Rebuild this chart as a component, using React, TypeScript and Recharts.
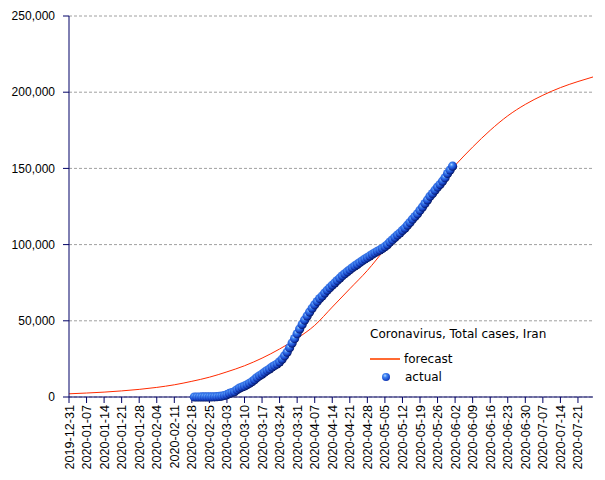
import React from "react";
import {
  ComposedChart,
  Line,
  Scatter,
  XAxis,
  YAxis,
  CartesianGrid,
} from "recharts";

// weekly tick labels on the x axis
const tickLabels = [
  "2019-12-31", "2020-01-07", "2020-01-14", "2020-01-21", "2020-01-28",
  "2020-02-04", "2020-02-11", "2020-02-18", "2020-02-25", "2020-03-03",
  "2020-03-10", "2020-03-17", "2020-03-24", "2020-03-31", "2020-04-07",
  "2020-04-14", "2020-04-21", "2020-04-28", "2020-05-05", "2020-05-12",
  "2020-05-19", "2020-05-26", "2020-06-02", "2020-06-09", "2020-06-16",
  "2020-06-23", "2020-06-30", "2020-07-07", "2020-07-14", "2020-07-21",
];

const yTicks = [0, 50000, 100000, 150000, 200000, 250000];

// forecast, one value per week plus the end point
const forecastDates = [...tickLabels, "2020-07-27"];
const forecastValues = [
  2100, 2600, 3200, 4000, 5000, 6300, 8000, 10300, 13000, 16500,
  20500, 25500, 31500, 38500, 47000, 59000, 71000, 83000, 97000, 111000,
  125000, 139000, 152000, 164000, 175000, 184500, 192000, 198000, 203000, 207000,
  210000,
];

// daily totals from 2020-02-19
const actualStart = "2020-02-19";
const actualValues = [
  0, 2, 5, 18, 28, 43, 61, 95, 139, 245, 388, 593,
  978, 1501, 2336, 2922, 3513, 4747, 5823, 6566, 7161, 8042,
  9000, 10075, 11364, 12729, 13938, 14991, 16169, 17361, 18407, 19644,
  20610, 21638, 23049, 24811, 27017, 29406, 32332, 35408, 38309, 41495,
  44605, 47593, 50468, 53183, 55743, 58226, 60500, 62589, 64586, 66220,
  68192, 70029, 71686, 73303, 74877, 76389, 77995, 79494, 80868, 82211,
  83505, 84802, 85996, 87026, 88194, 89328, 90481, 91472, 92584, 93657,
  94640, 95646, 96448, 97424, 98647, 99970, 101650, 103135, 104691, 106220,
  107603, 109286, 110767, 112725, 114533, 116635, 118392, 120198, 122492, 124603,
  126949, 129341, 131652, 133521, 135701, 137724, 139511, 141591, 143849, 146668,
  148950, 151466,
];

const DAY = 86400000;
const origin = Date.parse(tickLabels[0]);
const dayOf = (d: string) => Math.round((Date.parse(d) - origin) / DAY);

const forecastData = forecastDates.map((d, i) => ({ day: dayOf(d), value: forecastValues[i] }));
const actualData = actualValues.map((v, i) => ({ day: dayOf(actualStart) + i, value: v }));
const xTicks = tickLabels.map(dayOf);
const labelByDay: Record<number, string> = {};
tickLabels.forEach((t) => (labelByDay[dayOf(t)] = t));

const axisColor = "#000066";
const tickFont = "'Liberation Sans', Arial, sans-serif";

const XTick = (props: any) => {
  const { x, y, payload } = props;
  return (
    <text
      x={x}
      y={y}
      dy={4.5}
      transform={`rotate(-90 ${x} ${y})`}
      textAnchor="end"
      fontSize={12.6}
      fontFamily={tickFont}
      fill="#000"
    >
      {labelByDay[payload.value]}
    </text>
  );
};

const Ball = (props: any) => {
  const { cx, cy } = props;
  if (cx == null || cy == null) return null;
  return <circle cx={cx} cy={cy} r={4.6} fill="url(#ball)" />;
};

export default function App() {
  return (
    <div style={{ position: "absolute", left: 0, top: 0, width: 605, height: 480, background: "#fff" }}>
      <ComposedChart
        width={605}
        height={480}
        margin={{ top: 16, right: 12, bottom: 7, left: 9 }}
      >
        <defs>
          <radialGradient id="ball" cx="38%" cy="33%" r="72%">
            <stop offset="0%" stopColor="#b4d6ff" />
            <stop offset="25%" stopColor="#3f84f2" />
            <stop offset="65%" stopColor="#1845c8" />
            <stop offset="100%" stopColor="#000c50" />
          </radialGradient>
        </defs>
        <CartesianGrid vertical={false} stroke="#a0a0a0" strokeDasharray="3 2" />
        <XAxis
          dataKey="day"
          type="number"
          domain={[0, 209]}
          ticks={xTicks}
          interval={0}
          height={76}
          tickSize={6}
          tickMargin={2}
          stroke={axisColor}
          tick={<XTick />}
          allowDataOverflow
        />
        <YAxis
          dataKey="value"
          type="number"
          domain={[0, 250000]}
          ticks={yTicks}
          width={60}
          tickSize={6}
          tickMargin={8}
          stroke={axisColor}
          tick={{ fill: "#000", fontSize: 12, fontFamily: tickFont }}
          tickFormatter={(v: number) => v.toLocaleString("en-US")}
        />
        <Line
          data={forecastData}
          dataKey="value"
          type="monotone"
          stroke="#ff2a00"
          strokeWidth={1}
          dot={false}
          activeDot={false}
          isAnimationActive={false}
        />
        <Scatter
          data={actualData}
          dataKey="value"
          shape={<Ball />}
          isAnimationActive={false}
        />
      </ComposedChart>
      <div
        style={{
          position: "absolute",
          left: 370,
          top: 325,
          fontFamily: "'DejaVu Sans', sans-serif",
          fontSize: 12,
          color: "#000",
          lineHeight: "18px",
        }}
      >
        <div>Coronavirus, Total cases, Iran</div>
        <div style={{ display: "flex", alignItems: "center", marginTop: 7 }}>
          <span style={{ display: "inline-block", width: 30, height: 2, background: "#ff6a33", marginRight: 4 }} />
          <span>forecast</span>
        </div>
        <div style={{ display: "flex", alignItems: "center" }}>
          <span
            style={{
              display: "inline-block",
              width: 8,
              height: 8,
              borderRadius: "50%",
              marginLeft: 12,
              marginRight: 15,
              background: "radial-gradient(circle at 38% 33%, #b4d6ff 0%, #3f84f2 25%, #1845c8 65%, #000c50 100%)",
            }}
          />
          <span>actual</span>
        </div>
      </div>
    </div>
  );
}
